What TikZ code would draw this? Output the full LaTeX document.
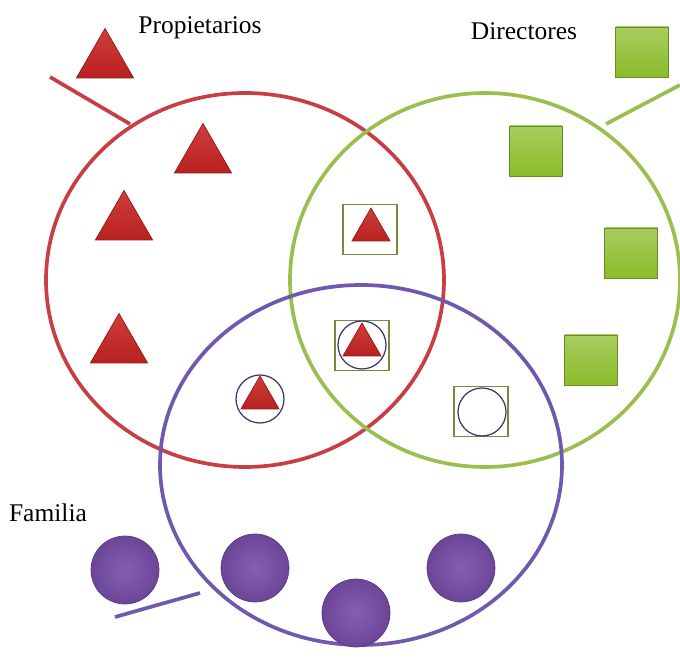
\documentclass[tikz,border=0pt]{standalone}
\usepackage{fontspec}
\setmainfont{Liberation Serif}
\usetikzlibrary{shapes.geometric}

\definecolor{redline}{RGB}{200,62,68}
\definecolor{greenline}{RGB}{155,190,80}
\definecolor{purpleline}{RGB}{112,88,172}
\definecolor{trifill}{RGB}{200,36,34}
\definecolor{tridark}{RGB}{150,20,20}
\definecolor{sqfill}{RGB}{138,188,42}
\definecolor{sqdark}{RGB}{105,140,35}
\definecolor{ballfill}{RGB}{122,80,172}
\definecolor{balldark}{RGB}{88,56,138}
\definecolor{boxline}{RGB}{118,140,60}
\definecolor{ringline}{RGB}{62,52,112}

\tikzset{
  bigtri/.style={regular polygon, regular polygon sides=3, minimum size=1.32cm, inner sep=0pt,
    draw=tridark, thin, top color=trifill!88!white, bottom color=trifill!92!black},
  smalltri/.style={bigtri, minimum size=0.88cm},
  sq/.style={rectangle, minimum width=1.06cm, minimum height=1.0cm, inner sep=0pt,
    draw=sqdark, thin, top color=sqfill!75!white, bottom color=sqfill},
  ball/.style={circle, minimum size=1.36cm, inner sep=0pt, draw=balldark, thin,
    shading=radial, inner color=ballfill!92!white, outer color=ballfill!88!black},
  box/.style={rectangle, minimum width=1.08cm, minimum height=1.0cm, inner sep=0pt, draw=boxline, line width=0.8pt},
  ring/.style={circle, minimum size=0.96cm, inner sep=0pt, draw=ringline, line width=0.7pt},
  setlabel/.style={font=\fontsize{14.5}{17}\selectfont}
}

\begin{document}
\begin{tikzpicture}[x=0.02cm, y=-0.02cm]
\useasboundingbox (0,0) rectangle (680,661);
% big sets
\draw [redline, line width=2.1pt] (245,280) ellipse (199 and 187);
\draw [greenline, line width=2.1pt] (485,280) ellipse (195 and 187);
\draw [purpleline, line width=2.1pt] (361,465) ellipse (201 and 180);
% pointer lines
\coordinate (rA) at (50,77);
\coordinate (rB) at (130,124);
\coordinate (gA) at (680,85);
\coordinate (gB) at (606,124);
\coordinate (pA) at (115,617);
\coordinate (pB) at (200,593);
\draw [redline, line width=2.1pt] (rA) -- (rB);
\draw [greenline, line width=2.1pt] (gA) -- (gB);
\draw [purpleline, line width=2.1pt] (pA) -- (pB);
% labels
\node [setlabel] (prop) at (200,28) {Propietarios};
\node [setlabel] (dir) at (524,31) {Directores};
\node [setlabel] (fam) at (48,513) {Familia};
% owners
\node [bigtri] (t1) at (105,61.5) {};
\node [bigtri] (t2) at (203,156.5) {};
\node [bigtri] (t3) at (124,223.5) {};
\node [bigtri] (t4) at (119,346.5) {};
% directors
\node [sq] (s1) at (642,52) {};
\node [sq] (s2) at (536,151) {};
\node [sq] (s3) at (631,253) {};
\node [sq] (s4) at (591,360) {};
% family
\node [ball] (b1) at (125,570) {};
\node [ball] (b2) at (255,568) {};
\node [ball] (b3) at (356,613) {};
\node [ball] (b4) at (461,568) {};
% overlaps
\node [box] (x1) at (370,229.5) {};
\node [smalltri] (xt1) at (371,230) {};
\node [box] (x2) at (362,345.5) {};
\node [ring] (xr2) at (362,345) {};
\node [smalltri] (xt2) at (362,345) {};
\node [ring] (xr3) at (260,399) {};
\node [smalltri] (xt3) at (260,398) {};
\node [box] (x4) at (481,411.5) {};
\node [ring] (xr4) at (482,412) {};
\end{tikzpicture}
\end{document}
